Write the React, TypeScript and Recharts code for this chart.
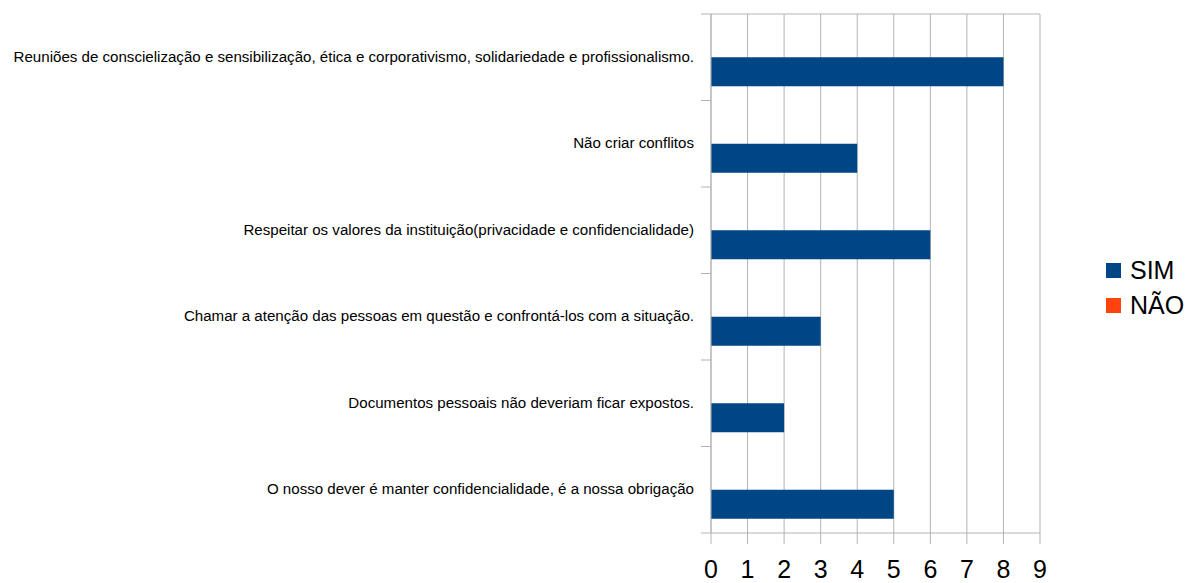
import { Bar, BarChart, CartesianGrid, XAxis, YAxis } from "recharts"

const categories = [
  "Reuniões de conscielização e sensibilização, ética e corporativismo, solidariedade e profissionalismo.",
  "Não criar conflitos",
  "Respeitar os valores da instituição(privacidade e confidencialidade)",
  "Chamar a atenção das pessoas em questão e confrontá-los com a situação.",
  "Documentos pessoais não deveriam ficar expostos.",
  "O nosso dever é manter confidencialidade, é a nossa obrigação",
]
const simValues = [8, 4, 6, 3, 2, 5]
const naoValues = [0, 0, 0, 0, 0, 0]
const xTicks = [0, 1, 2, 3, 4, 5, 6, 7, 8, 9]

const data = categories.map((name, i) => ({ name, sim: simValues[i], nao: naoValues[i] }))

const W = 1196
const H = 583
const TOP = 14
const XAXIS_H = 50
const PLOT_H = H - TOP - XAXIS_H
const GRID = "#b3b3b3"
const FONT = "'Liberation Sans', Arial, sans-serif"

function CategoryTick(props: any) {
  const { x, y, payload, index } = props
  const half = PLOT_H / categories.length / 2
  const last = index === categories.length - 1
  return (
    <g>
      <line x1={x - 10} x2={x} y1={y - half} y2={y - half} stroke={GRID} />
      {last && <line x1={x - 10} x2={x} y1={y + half} y2={y + half} stroke={GRID} />}
      <text x={x - 17} y={y} dy="0.3em" textAnchor="end" fontSize={15.1} fill="#000" fontFamily={FONT}>
        {payload.value}
      </text>
    </g>
  )
}

function ValueTick(props: any) {
  const { x, y, payload } = props
  return (
    <text x={x} y={y + 34} textAnchor="middle" fontSize={25} fill="#000" fontFamily={FONT}>
      {payload.value}
    </text>
  )
}

function LegendBox() {
  const items = [
    { label: "SIM", color: "#004586" },
    { label: "NÃO", color: "#ff420e" },
  ]
  return (
    <div style={{ position: "absolute", left: 1106, top: 253, fontFamily: FONT, fontSize: 25, color: "#000" }}>
      {items.map((it) => (
        <div key={it.label} style={{ display: "flex", alignItems: "center", height: 35 }}>
          <span style={{ width: 15, height: 15, background: it.color, marginRight: 9 }} />
          <span>{it.label}</span>
        </div>
      ))}
    </div>
  )
}

export default function App() {
  return (
    <div style={{ position: "absolute", left: 0, top: 0, width: W, height: H }}>
      <BarChart
        width={W}
        height={H}
        data={data}
        layout="vertical"
        margin={{ top: TOP, right: 156, bottom: 0, left: 0 }}
        barCategoryGap="16.5%"
        barGap={0}
      >
        <CartesianGrid
          stroke={GRID}
          horizontalCoordinatesGenerator={({ offset }: any) => [offset.top]}
        />
        <XAxis
          type="number"
          domain={[0, 9]}
          ticks={xTicks}
          interval={0}
          height={XAXIS_H}
          tickSize={11}
          tickMargin={0}
          stroke={GRID}
          tick={<ValueTick />}
        />
        <YAxis
          type="category"
          dataKey="name"
          width={711}
          tickSize={0}
          tickMargin={0}
          interval={0}
          stroke={GRID}
          tick={<CategoryTick />}
        />
        <Bar dataKey="nao" name="NÃO" fill="#ff420e" isAnimationActive={false} />
        <Bar dataKey="sim" name="SIM" fill="#004586" isAnimationActive={false} />
      </BarChart>
      <LegendBox />
    </div>
  )
}
